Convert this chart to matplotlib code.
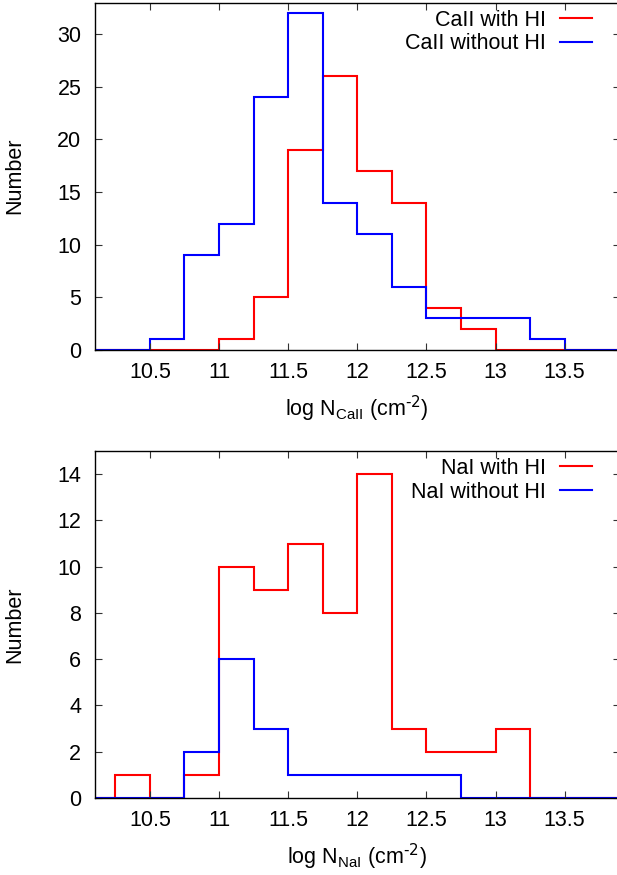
import numpy as np
import matplotlib
matplotlib.use('Agg')
import matplotlib.pyplot as plt
from matplotlib.lines import Line2D

plt.rcParams['font.family'] = ['Liberation Sans', 'DejaVu Sans']
plt.rcParams['font.size'] = 15.5
plt.rcParams['mathtext.default'] = 'regular'

# bin edges: 0.25 dex wide, 10.0 .. 14.0
edges = np.arange(10.0, 14.0001, 0.25)

ca_with_hi = [0, 0, 0, 0, 1, 5, 19, 26, 17, 14, 4, 2, 0, 0, 0, 0]
ca_without_hi = [0, 0, 1, 9, 12, 24, 32, 14, 11, 6, 3, 3, 3, 1, 0, 0]
na_with_hi = [0, 1, 0, 1, 10, 9, 11, 8, 14, 3, 2, 2, 3, 0, 0, 0]
na_without_hi = [0, 0, 0, 2, 6, 3, 1, 1, 1, 1, 1, 0, 0, 0, 0, 0]

xticks = [10.5, 11, 11.5, 12, 12.5, 13, 13.5]
xticklabels = ['10.5', '11', '11.5', '12', '12.5', '13', '13.5']

W, H = 617, 875
fig = plt.figure(figsize=(W / 100, H / 100), dpi=100)


def px_axes(left, top, right, bottom):
    return fig.add_axes([left / W, 1 - bottom / H, (right - left) / W, (bottom - top) / H])


def panel(ax, red, blue, labels, ymax, ystep, ion):
    ax.stairs(red, edges, color='#ff0000', lw=1.5, baseline=None)
    ax.stairs(blue, edges, color='#0000ff', lw=1.5, baseline=None)
    ax.set_xlim(10.1, 13.9)
    ax.set_ylim(0, ymax)
    ax.set_xticks(xticks)
    ax.set_xticklabels(xticklabels)
    ax.set_yticks(np.arange(0, ymax, ystep))
    ax.tick_params(direction='in', length=5, width=0.8, top=True, right=True,
                   color='#333333')
    ax.tick_params(axis='x', pad=8.5)
    ax.tick_params(axis='y', pad=9.5)
    for s in ax.spines.values():
        s.set_linewidth(1.0)
    ax.set_ylabel('Number', labelpad=23)
    ax.set_xlabel(r'log N$_{%s}$ (cm$^{\text{-2}}$)' % ion, labelpad=8)
    handles = [Line2D([], [], color='#ff0000', lw=1.5),
               Line2D([], [], color='#0000ff', lw=1.5)]
    # anchor the key's top-right corner a little inside the frame
    bb = ax.get_position()
    ax.legend(handles, labels, markerfirst=False, frameon=False, loc='upper right',
              bbox_to_anchor=((592 - 94.5) / 525.5, 1 - 7 / (bb.height * H)),
              handlelength=1.5, handletextpad=0.65, labelspacing=0.12,
              borderaxespad=0, borderpad=0, fontsize=15.5)


ax1 = px_axes(94.5, 2.5, 620, 350)
panel(ax1, ca_with_hi, ca_without_hi, ['CaII with HI', 'CaII without HI'], 33, 5, 'CaII')

ax2 = px_axes(94.5, 451, 620, 798)
panel(ax2, na_with_hi, na_without_hi, ['NaI with HI', 'NaI without HI'], 15, 2, 'NaI')

fig.savefig('out.png', dpi=100)
